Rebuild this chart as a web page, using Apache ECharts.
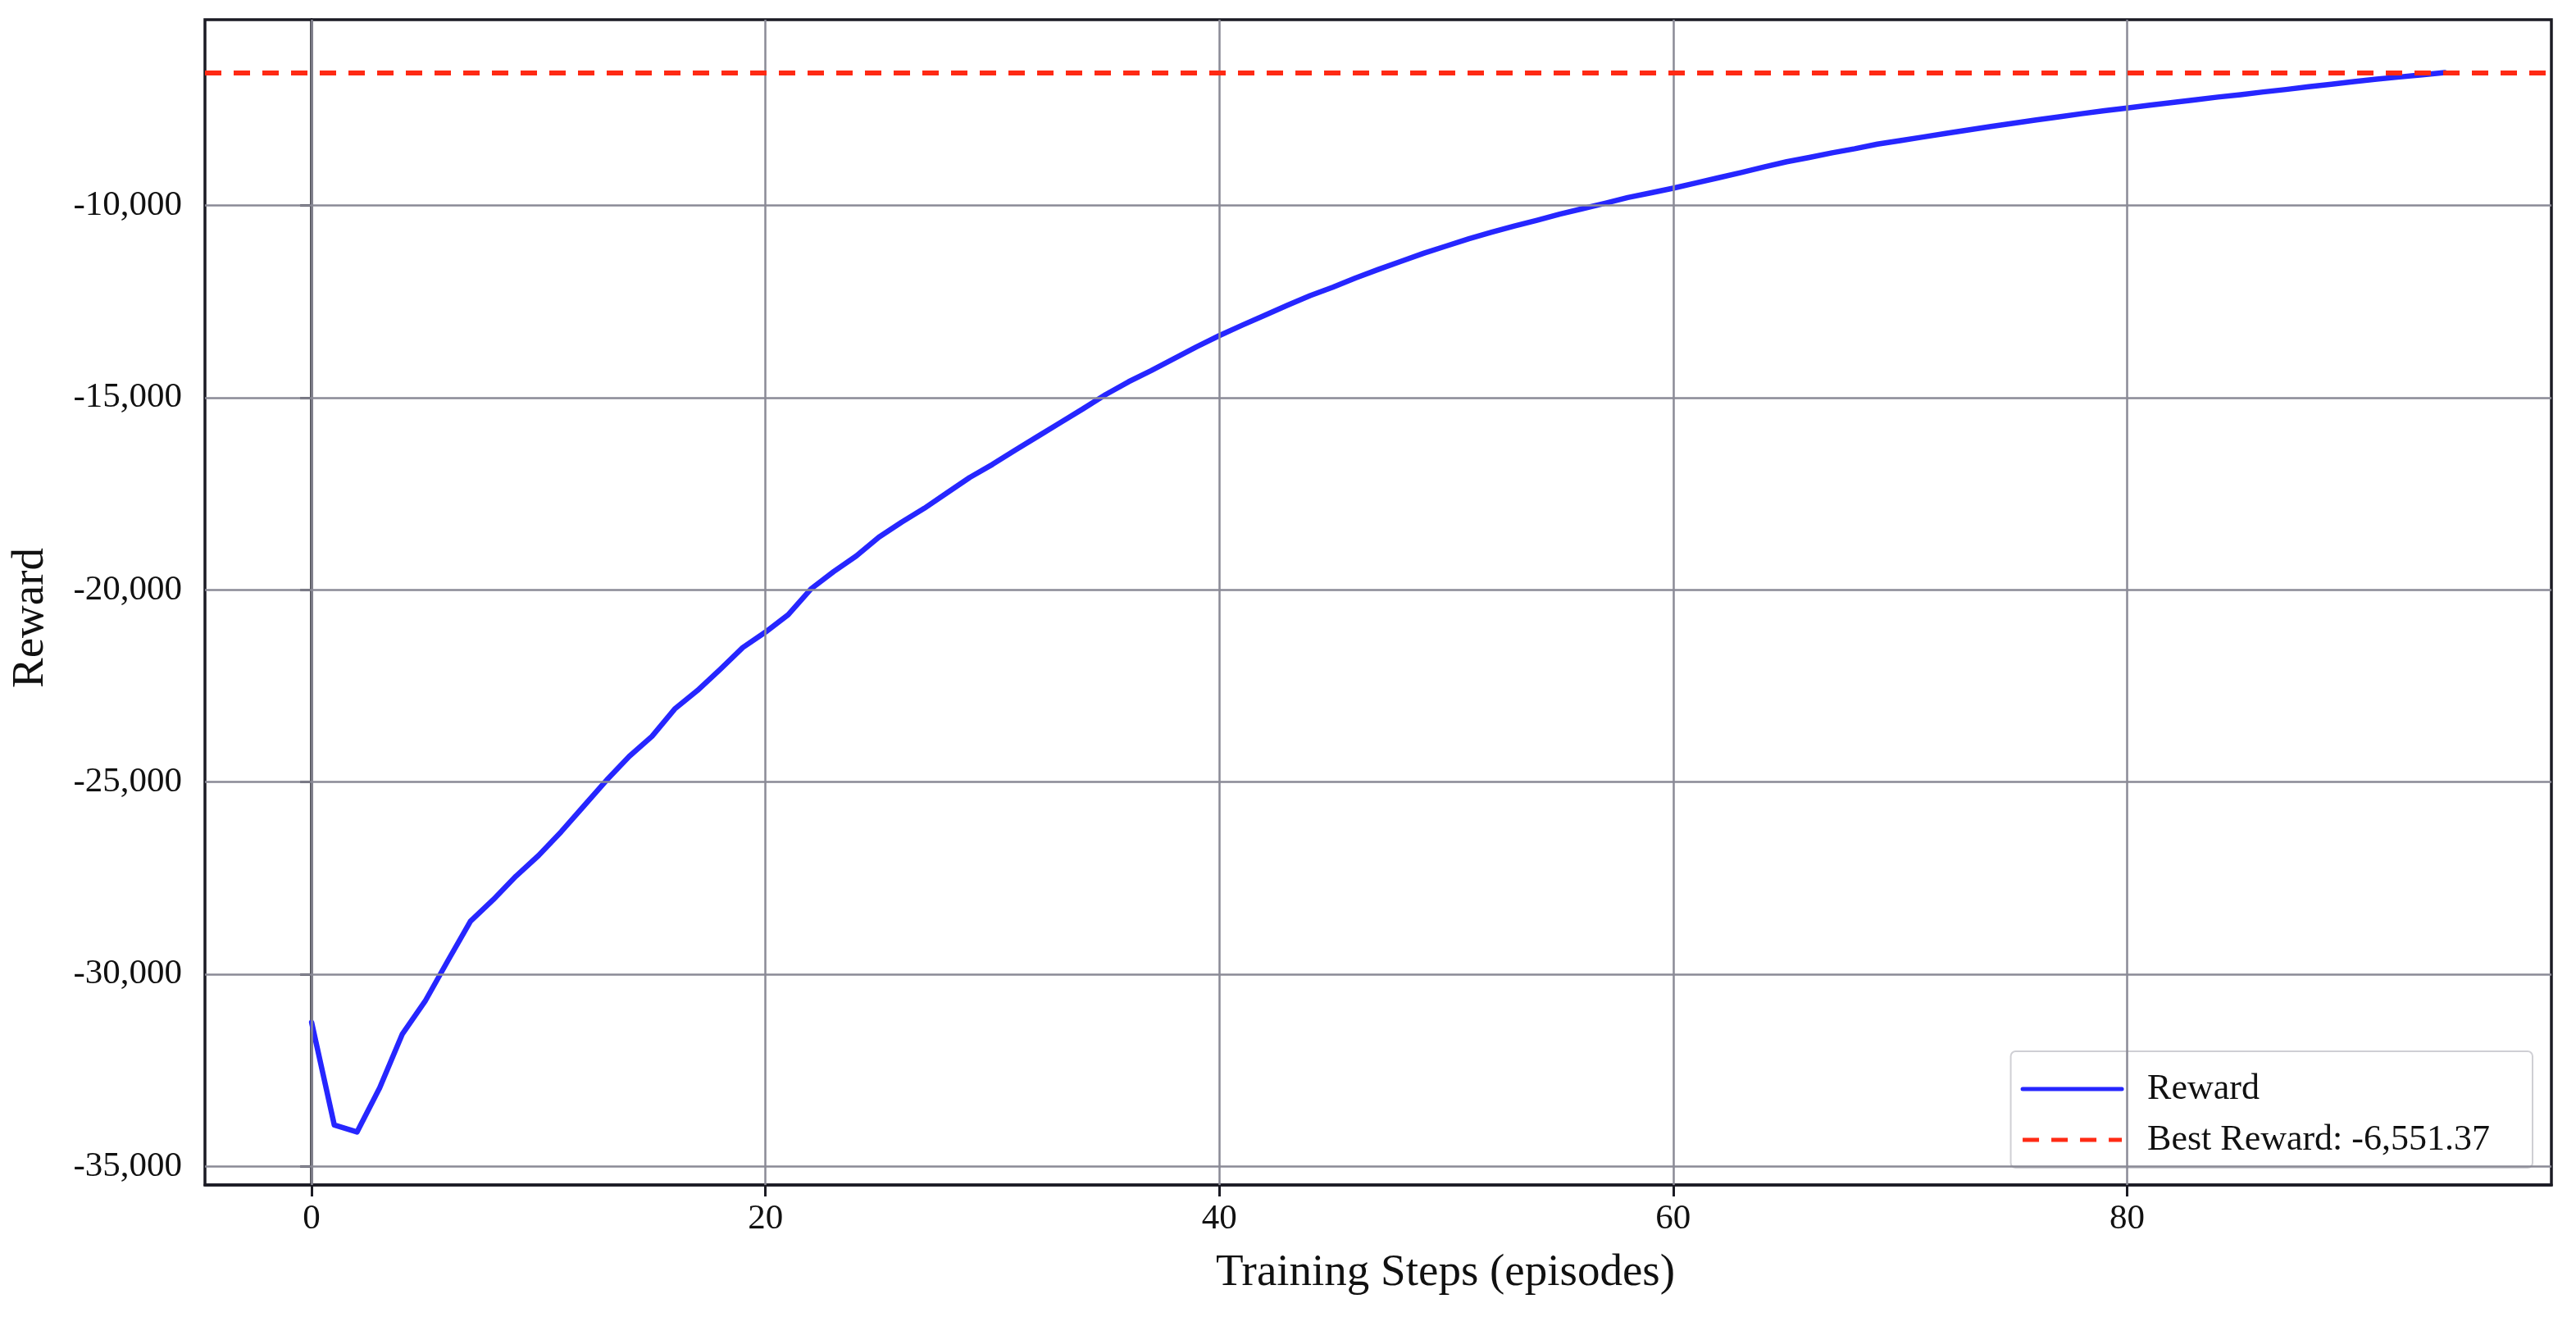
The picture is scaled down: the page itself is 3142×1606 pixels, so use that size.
<!DOCTYPE html>
<html>
<head>
<meta charset="utf-8">
<title>Training Reward</title>
<script src="https://cdn.jsdelivr.net/npm/echarts@6/dist/echarts.min.js"></script>
<style>
  html, body { margin: 0; padding: 0; background: #fff; }
  #chart { width: 3142px; height: 1606px; }
</style>
</head>
<body>
<div id="chart"></div>
<script>
// episode rewards
const rewards = [
  -31250, -33920, -34100, -32950, -31550, -30700, -29650, -28620, -28060, -27450,
  -26910, -26290, -25620, -24950, -24330, -23810, -23100, -22620, -22070, -21500,
  -21100, -20650, -19980, -19530, -19120, -18630, -18240, -17880, -17480, -17080,
  -16740, -16370, -16010, -15650, -15290, -14920, -14590, -14300, -13990, -13680,
  -13390, -13120, -12860, -12600, -12350, -12130, -11890, -11670, -11460, -11250,
  -11060, -10870, -10700, -10540, -10390, -10230, -10090, -9950, -9800, -9680,
  -9556, -9420, -9285, -9150, -9004, -8869, -8756, -8636, -8530, -8410,
  -8318, -8226, -8134, -8042, -7951, -7866, -7781, -7703, -7618, -7541,
  -7470, -7399, -7329, -7258, -7187, -7124, -7053, -6989, -6919, -6855,
  -6784, -6721, -6664, -6608, -6551.37
];
const episodes = rewards.map((_, i) => i);
const xTicks = [0, 20, 40, 60, 80];
const yTicks = [-35000, -30000, -25000, -20000, -15000, -10000];

const bestReward = Math.max(...rewards);
const bestName = 'Best Reward: ' + bestReward.toLocaleString('en-US', { minimumFractionDigits: 2, maximumFractionDigits: 2 });

// matplotlib style 5% margins around the data
const xLast = episodes[episodes.length - 1];
const yMin = Math.min(...rewards);
const yRange = bestReward - yMin;

const FONT = "'Liberation Serif', 'Times New Roman', serif";
const GRID_COLOR = '#8a8a96';
const SPINE = '#1b1b24';
const BLUE = '#2626ff';
const RED = '#ff2a14';

const chart = echarts.init(document.getElementById('chart'));

const option = {
  animation: false,
  backgroundColor: '#ffffff',
  textStyle: { fontFamily: FONT },
  grid: {
    left: 250, right: 30, top: 24, bottom: 161,
    show: true, borderColor: SPINE, borderWidth: 3.5, backgroundColor: 'transparent'
  },
  legend: {
    data: ['Reward', bestName],
    orient: 'vertical',
    right: 53,
    top: 1282,
    padding: [24, 52, 12, 12],
    itemGap: 18,
    itemWidth: 121,
    itemHeight: 14,
    backgroundColor: '#ffffff',
    borderColor: '#cfcfd4',
    borderWidth: 2,
    borderRadius: 6,
    itemStyle: { opacity: 0 },
    lineStyle: { width: 5 },
    textStyle: { fontFamily: FONT, fontSize: 44, color: '#111', padding: [0, 0, 0, 26] }
  },
  xAxis: {
    type: 'value',
    min: -0.05 * xLast,
    max: 1.05 * xLast,
    name: 'Training Steps (episodes)',
    nameLocation: 'middle',
    nameGap: 80,
    nameTextStyle: { fontFamily: FONT, fontSize: 55, color: '#111', padding: [0, 0, 0, 164] },
    axisLine: { show: true, lineStyle: { color: SPINE, width: 3.5 } },
    axisTick: { show: true, customValues: xTicks, length: 14, lineStyle: { color: SPINE, width: 3 } },
    axisLabel: { customValues: xTicks, margin: 20, fontFamily: FONT, fontSize: 43, color: '#111' },
    splitLine: { show: false }
  },
  yAxis: {
    type: 'value',
    min: yMin - 0.05 * yRange,
    max: bestReward + 0.05 * yRange,
    name: 'Reward',
    nameLocation: 'middle',
    nameGap: 185,
    nameTextStyle: { fontFamily: FONT, fontSize: 55, color: '#111', padding: [0, 38, 0, 0] },
    axisLine: { show: true, lineStyle: { color: SPINE, width: 3.5 } },
    axisTick: { show: true, customValues: yTicks, length: 14, lineStyle: { color: SPINE, width: 3 } },
    axisLabel: {
      customValues: yTicks,
      margin: 28,
      fontFamily: FONT,
      fontSize: 43,
      color: '#111',
      formatter: v => v.toLocaleString('en-US')
    },
    splitLine: { show: false }
  },
  series: [
    {
      // grid lines at the tick positions
      name: 'grid',
      type: 'line',
      data: [],
      silent: true,
      z: 1,
      markLine: {
        silent: true,
        symbol: 'none',
        label: { show: false },
        lineStyle: { color: GRID_COLOR, width: 2.5, type: 'solid' },
        emphasis: { disabled: true },
        data: yTicks.map(v => ({ yAxis: v })).concat(xTicks.map(v => ({ xAxis: v })))
      }
    },
    {
      name: 'Reward',
      type: 'line',
      data: rewards.map((v, i) => [episodes[i], v]),
      symbol: 'none',
      z: 3,
      lineStyle: { color: BLUE, width: 6.5, join: 'round', cap: 'round' },
      itemStyle: { color: BLUE }
    },
    {
      name: bestName,
      type: 'line',
      data: [],
      symbol: 'none',
      z: 4,
      lineStyle: { color: RED, width: 6, type: [20, 15] },
      itemStyle: { color: RED },
      markLine: {
        silent: true,
        symbol: 'none',
        label: { show: false },
        lineStyle: { color: RED, width: 6, type: [20, 15] },
        emphasis: { disabled: true },
        data: [{ yAxis: bestReward }]
      }
    }
  ]
};

chart.setOption(option);
</script>
</body>
</html>
